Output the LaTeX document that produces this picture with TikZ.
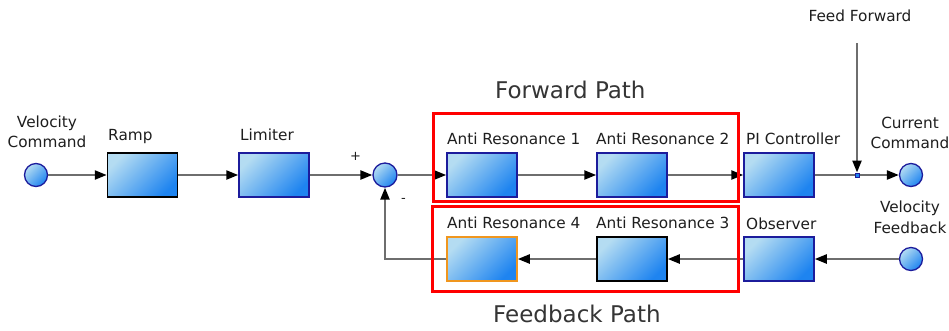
\documentclass[tikz,border=0pt]{standalone}
\usepackage{fontspec}
\setmainfont{DejaVu Sans}
\usetikzlibrary{arrows.meta}
\definecolor{lightb}{HTML}{B4DCF2}
\definecolor{darkb}{HTML}{1E84F0}
\definecolor{bordb}{HTML}{1C1C9C}
\definecolor{wirec}{HTML}{6E6E6E}
\definecolor{txt}{HTML}{1E1E1E}
\definecolor{redb}{HTML}{FF0000}
\definecolor{orb}{HTML}{F0961E}
\tikzset{
  blk/.style={rectangle, minimum width=70pt, minimum height=44pt, inner sep=0pt,
    line width=1.5pt, draw=bordb, top color=lightb, bottom color=darkb, shading angle=45},
  port/.style={circle, minimum size=23pt, inner sep=0pt, line width=1.3pt, draw=bordb,
    top color=lightb, bottom color=darkb, shading angle=45},
  lbl/.style={inner sep=0pt, text=txt, font=\fontsize{15.3}{20.5}\selectfont},
  big/.style={inner sep=0pt, text=txt!90, font=\fontsize{23}{27}\selectfont},
  sgn/.style={inner sep=0pt, text=txt, font=\fontsize{13}{15}\selectfont},
  conn/.style={draw=wirec, line width=2.3pt, -{Triangle[length=12pt,width=9pt,color=black]}},
  grp/.style={rectangle, draw=redb, line width=3pt, inner sep=0pt},
  jn/.style={rectangle, minimum size=4pt, inner sep=0pt, fill=darkb, draw=bordb, line width=1pt}
}
\begin{document}
\begin{tikzpicture}[x=1pt,y=-1pt]
\useasboundingbox[fill=white] (0,0) rectangle (949,330);
% ports and blocks
\node[port] (vc) at (36,175) {};
\node[blk, draw=black] (ramp) at (142.5,175) {};
\node[blk] (lim) at (274,175) {};
\node[port, minimum size=24pt] (sum) at (385,175) {};
\node[blk] (ar1) at (482,175) {};
\node[blk] (ar2) at (632,175) {};
\node[blk] (pi) at (779,175) {};
\node[port] (cc) at (911,175) {};
\node[blk] (obs) at (779,259) {};
\node[blk, draw=black] (ar3) at (632,259) {};
\node[blk, draw=orb] (ar4) at (482,259) {};
\node[port] (vf) at (911,259) {};
\coordinate (ff) at (857,43);
% labels
\node[lbl, anchor=base west] (lramp) at (108,140) {Ramp};
\node[lbl, anchor=base west] (llim) at (240,140) {Limiter};
\node[lbl, anchor=base west] (lar1) at (447,144) {Anti Resonance 1};
\node[lbl, anchor=base west] (lar2) at (596,144) {Anti Resonance 2};
\node[lbl, anchor=base west] (lpi) at (746,144) {PI Controller};
\node[lbl, anchor=base west] (lobs) at (746,229) {Observer};
\node[lbl, anchor=base west] (lar4) at (447,228) {Anti Resonance 4};
\node[lbl, anchor=base west] (lar3) at (596,228) {Anti Resonance 3};
\node[lbl, anchor=north, align=center] (lvc) at (47,115.5) {Velocity\\Command};
\node[lbl, anchor=north, align=center] (lcc) at (910,116.5) {Current\\Command};
\node[lbl, anchor=north, align=center] (lvf) at (910,201) {Velocity\\Feedback};
\node[lbl, anchor=base] (lff) at (860,21.5) {Feed Forward};
\node[big, anchor=base west] (lfwd) at (495,98) {Forward Path};
\node[big, anchor=base west] (lfb) at (493,322) {Feedback Path};
\node[sgn] (plus) at (355.5,156.5) {+};
\node[sgn] (minus) at (403.5,200) {-};
% connectors
\draw[conn] (vc) -- (ramp);
\draw[conn] (ramp) -- (lim);
\draw[conn] (lim) -- (sum);
\draw[conn] (sum) -- (ar1);
\draw[conn] (ar1) -- (ar2);
\draw[conn] (ar2) -- (pi);
\draw[conn] (pi) -- (cc);
\draw[conn] (vf) -- (obs);
\draw[conn] (obs) -- (ar3);
\draw[conn] (ar3) -- (ar4);
\draw[conn] (ar4.west) -| (sum.south);
\node[jn] (j) at (857,175) {};
\draw[conn] (ff) -- (j.north);
% groups
\node[grp, minimum width=305pt, minimum height=88pt] (fwd) at (585.5,157.4) {};
\node[grp, minimum width=305.5pt, minimum height=85pt] (fb) at (585.3,249.2) {};
\end{tikzpicture}
\end{document}
